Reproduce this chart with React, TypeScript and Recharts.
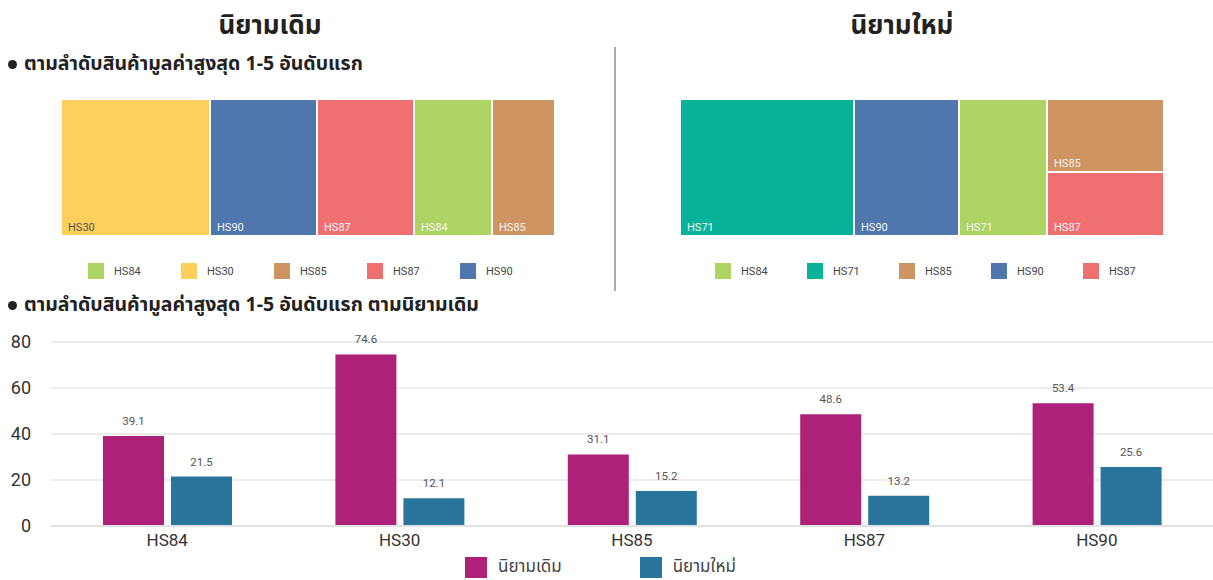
import React from 'react';
import { Treemap, BarChart, Bar, XAxis, YAxis, CartesianGrid, Legend, LabelList } from 'recharts';

// ตามนิยามเดิม: 5 อันดับแรก (treemap)
const oldTopCodes = ['HS30', 'HS90', 'HS87', 'HS84', 'HS85'];
const oldTopValues = [74.6, 53.4, 48.6, 39.1, 31.1];
const oldLegendCodes = ['HS84', 'HS30', 'HS85', 'HS87', 'HS90'];

// ตามนิยามใหม่: 5 อันดับแรก (treemap)
const newTopCodes = ['HS71', 'HS90', 'HS84', 'HS85', 'HS87'];
const newTopLabels = ['HS71', 'HS90', 'HS71', 'HS85', 'HS87'];
const newTopValues = [42.5, 25.6, 21.5, 15.2, 13.2];
const newLegendCodes = ['HS84', 'HS71', 'HS85', 'HS90', 'HS87'];

// กราฟแท่ง
const barCategories = ['HS84', 'HS30', 'HS85', 'HS87', 'HS90'];
const oldValues = [39.1, 74.6, 31.1, 48.6, 53.4];
const newValues = [21.5, 12.1, 15.2, 13.2, 25.6];
const yTicks = [0, 20, 40, 60, 80];

const codeColors: Record<string, string> = {
  HS30: '#FCD05B',
  HS90: '#4F76AD',
  HS87: '#F06F70',
  HS84: '#ADD363',
  HS85: '#CE9563',
  HS71: '#06B398',
};

const OLD_COLOR = '#AD2179';
const NEW_COLOR = '#2A759B';
const THAI_FONT = '"Noto Sans Thai", "Noto Sans", "DejaVu Sans", sans-serif';
const NUM_FONT = 'Roboto, "Noto Sans", sans-serif';

const oldTreeData = oldTopCodes.map((code, i) => ({
  name: code,
  label: code,
  size: oldTopValues[i],
}));

const newTreeData = newTopCodes.map((code, i) => ({
  name: code,
  label: newTopLabels[i],
  size: newTopValues[i],
}));

const barData = barCategories.map((cat, i) => ({
  name: cat,
  oldDef: oldValues[i],
  newDef: newValues[i],
}));

// กล่องของ treemap พร้อมป้ายมุมล่างซ้าย
const TreeCell = (props: any) => {
  const { x, y, width, height, depth, name, label } = props;
  if (depth !== 1) return null;
  const fill = codeColors[name] || '#ccc';
  const textColor = name === 'HS30' ? '#555' : '#f4f4f4';
  return (
    <g>
      <rect x={x} y={y} width={width} height={height} fill={fill} stroke="#fff" strokeWidth={2} />
      <text
        x={x + 7}
        y={y + height - 5}
        fill={textColor}
        fontSize={11}
        fontFamily={NUM_FONT}
      >
        {label}
      </text>
    </g>
  );
};

const TreeLegend = ({ codes, left, step }: { codes: string[]; left: number; step: number }) => (
  <div style={{ position: 'absolute', top: 263, left, height: 16 }}>
    {codes.map((code, i) => (
      <div
        key={code}
        style={{ position: 'absolute', left: i * step, top: 0, display: 'flex', alignItems: 'center' }}
      >
        <span style={{ width: 16, height: 16, background: codeColors[code], display: 'inline-block' }} />
        <span style={{ marginLeft: 10, fontSize: 11, color: '#444', fontFamily: NUM_FONT }}>{code}</span>
      </div>
    ))}
  </div>
);

const BarLegend = () => (
  <div style={{ display: 'flex', justifyContent: 'center', height: 22, marginLeft: -12 }}>
    {[
      { label: 'นิยามเดิม', color: OLD_COLOR },
      { label: 'นิยามใหม่', color: NEW_COLOR },
    ].map((item, i) => (
      <div key={item.label} style={{ display: 'flex', alignItems: 'center', marginLeft: i ? 78 : 0 }}>
        <span style={{ width: 22, height: 21, background: item.color, display: 'inline-block' }} />
        <span style={{ marginLeft: 11, fontSize: 17, color: '#444', fontFamily: THAI_FONT }}>{item.label}</span>
      </div>
    ))}
  </div>
);

const subHeading: React.CSSProperties = {
  position: 'absolute',
  left: 8,
  fontSize: 19.5,
  fontWeight: 700,
  color: '#222',
  fontFamily: THAI_FONT,
  whiteSpace: 'nowrap',
  display: 'flex',
  alignItems: 'center',
};

const Bullet = () => (
  <span style={{ display: 'inline-block', width: 9, height: 9, borderRadius: '50%', background: '#222', marginRight: 7 }} />
);

export default function App() {
  return (
    <div
      style={{
        position: 'fixed',
        left: 0,
        top: 0,
        width: 1213,
        height: 580,
        background: '#fff',
        overflow: 'hidden',
        fontFamily: THAI_FONT,
      }}
    >
      <div style={{ position: 'absolute', left: 120, width: 300, top: 6, textAlign: 'center', fontSize: 26, fontWeight: 700, color: '#222' }}>
        นิยามเดิม
      </div>
      <div style={{ position: 'absolute', left: 752, width: 300, top: 6, textAlign: 'center', fontSize: 26, fontWeight: 700, color: '#222' }}>
        นิยามใหม่
      </div>
      <div style={{ ...subHeading, top: 49 }}>
        <Bullet />
        ตามลำดับสินค้ามูลค่าสูงสุด 1-5 อันดับแรก
      </div>

      <div style={{ position: 'absolute', left: 614, top: 47, width: 2, height: 244, background: '#aaa' }} />

      <div style={{ position: 'absolute', left: 61, top: 99 }}>
        <Treemap
          width={494}
          height={137}
          data={oldTreeData}
          dataKey="size"
          aspectRatio={1}
          isAnimationActive={false}
          content={<TreeCell />}
        />
      </div>
      <TreeLegend codes={oldLegendCodes} left={88} step={93} />

      <div style={{ position: 'absolute', left: 680, top: 99 }}>
        <Treemap
          width={484}
          height={137}
          data={newTreeData}
          dataKey="size"
          aspectRatio={1}
          isAnimationActive={false}
          content={<TreeCell />}
        />
      </div>
      <TreeLegend codes={newLegendCodes} left={715} step={92} />

      <div style={{ ...subHeading, top: 290 }}>
        <Bullet />
        ตามลำดับสินค้ามูลค่าสูงสุด 1-5 อันดับแรก ตามนิยามเดิม
      </div>

      <div style={{ position: 'absolute', left: 0, top: 330 }}>
        <BarChart
          width={1213}
          height={250}
          data={barData}
          margin={{ top: 12, right: 0, bottom: 0, left: 0 }}
          barSize={61}
          barGap={7}
        >
          <CartesianGrid vertical={false} stroke="#e6e6e6" strokeWidth={1.5} />
          <XAxis
            dataKey="name"
            height={30}
            tickLine={false}
            axisLine={{ stroke: '#e2e2e2', strokeWidth: 2 }}
            tick={{ fontSize: 17, fill: '#333', fontFamily: NUM_FONT }}
          />
          <YAxis
            width={51}
            domain={[0, 80]}
            ticks={yTicks}
            axisLine={false}
            tickLine={false}
            tickMargin={14}
            tick={{ fontSize: 18, fill: '#333', fontFamily: NUM_FONT }}
          />
          <Legend verticalAlign="bottom" height={24} content={<BarLegend />} />
          <Bar dataKey="oldDef" name="นิยามเดิม" fill={OLD_COLOR} isAnimationActive={false}>
            <LabelList dataKey="oldDef" position="top" offset={11} fill="#555" fontSize={11.5} fontFamily={NUM_FONT} />
          </Bar>
          <Bar dataKey="newDef" name="นิยามใหม่" fill={NEW_COLOR} isAnimationActive={false}>
            <LabelList dataKey="newDef" position="top" offset={11} fill="#555" fontSize={11.5} fontFamily={NUM_FONT} />
          </Bar>
        </BarChart>
      </div>
    </div>
  );
}
